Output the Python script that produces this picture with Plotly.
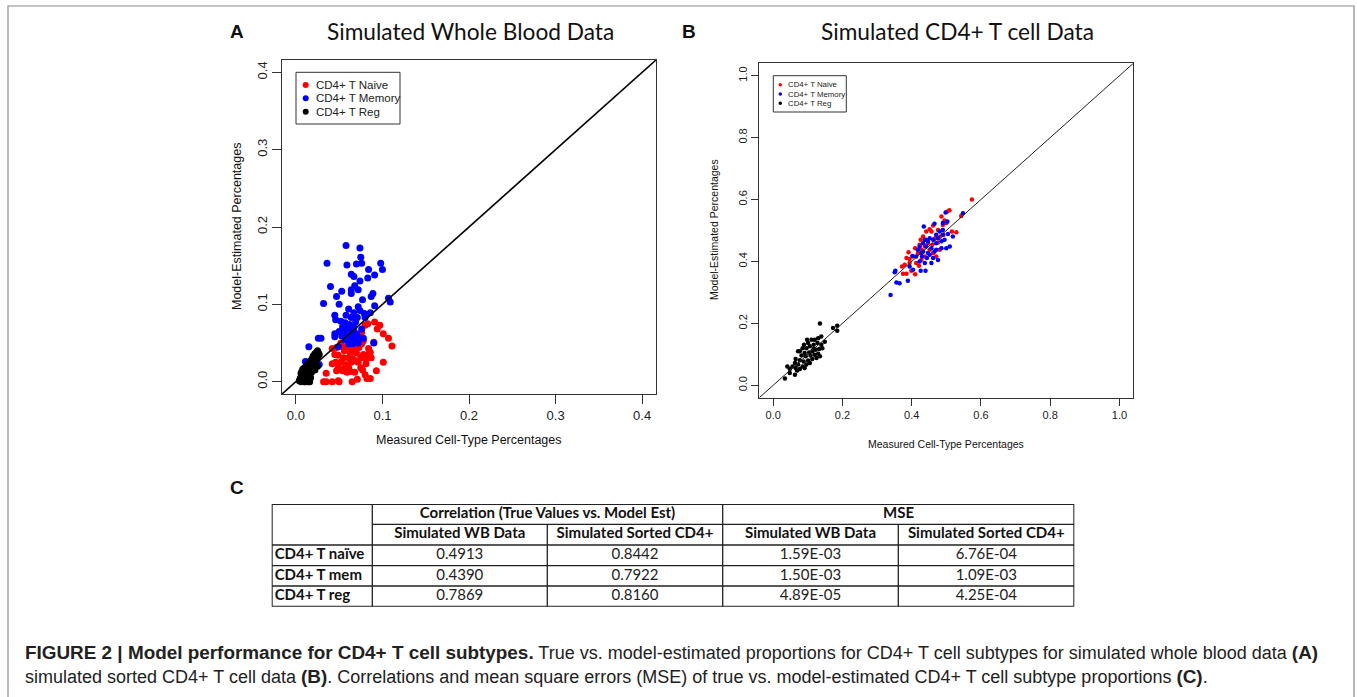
import plotly.graph_objects as go

W, H = 1357, 697

# ---------------- Panel A data (Simulated Whole Blood) ----------------
a_naive_x = [0.091, 0.097, 0.083, 0.094, 0.080, 0.101, 0.107, 0.111, 0.076, 0.073, 0.068, 0.090,
             0.078, 0.063, 0.047, 0.042, 0.053, 0.060, 0.066, 0.073, 0.084, 0.086, 0.056, 0.063,
             0.070, 0.078, 0.083, 0.049, 0.055, 0.061, 0.066, 0.075, 0.081, 0.087, 0.042, 0.046,
             0.052, 0.058, 0.064, 0.072, 0.081, 0.101, 0.049, 0.056, 0.061, 0.075, 0.047, 0.054,
             0.063, 0.077, 0.093, 0.035, 0.059, 0.080, 0.068, 0.032, 0.035, 0.042, 0.049, 0.050,
             0.065, 0.071, 0.082, 0.086, 0.015, 0.010, 0.045, 0.052, 0.076, 0.069]
a_naive_y = [0.077, 0.073, 0.075, 0.068, 0.073, 0.062, 0.056, 0.046, 0.064, 0.060, 0.063, 0.051,
             0.053, 0.055, 0.044, 0.043, 0.046, 0.045, 0.043, 0.044, 0.043, 0.038, 0.040, 0.037,
             0.037, 0.035, 0.035, 0.034, 0.031, 0.031, 0.029, 0.031, 0.029, 0.031, 0.023, 0.025,
             0.025, 0.022, 0.025, 0.025, 0.023, 0.025, 0.018, 0.017, 0.018, 0.018, 0.014, 0.014,
             0.013, 0.015, 0.014, 0.011, 0.012, 0.009, 0.012, 0.000, 0.000, 0.000, 0.001, 0.000,
             0.000, 0.003, 0.004, 0.004, 0.000, 0.000, 0.035, 0.050, 0.049, 0.027]

a_mem_x = [0.058, 0.074, 0.075, 0.036, 0.059, 0.070, 0.076, 0.098, 0.100, 0.084, 0.064, 0.067,
           0.083, 0.091, 0.074, 0.040, 0.068, 0.053, 0.064, 0.072, 0.064, 0.089, 0.087, 0.047,
           0.077, 0.050, 0.032, 0.107, 0.109, 0.091, 0.061, 0.072, 0.067, 0.074, 0.079, 0.086,
           0.045, 0.058, 0.064, 0.071, 0.080, 0.046, 0.052, 0.057, 0.062, 0.069, 0.054, 0.060,
           0.067, 0.076, 0.050, 0.056, 0.064, 0.045, 0.070, 0.045, 0.053, 0.060, 0.066, 0.073,
           0.078, 0.057, 0.063, 0.070, 0.029, 0.026, 0.061, 0.066, 0.072, 0.090, 0.049, 0.015,
           0.027, 0.011]
a_mem_y = [0.176, 0.173, 0.161, 0.153, 0.151, 0.152, 0.153, 0.153, 0.145, 0.145, 0.139, 0.136,
           0.134, 0.138, 0.130, 0.123, 0.124, 0.117, 0.119, 0.119, 0.114, 0.114, 0.110, 0.110,
           0.106, 0.100, 0.101, 0.108, 0.103, 0.098, 0.094, 0.097, 0.089, 0.092, 0.088, 0.089,
           0.086, 0.086, 0.083, 0.083, 0.083, 0.080, 0.078, 0.076, 0.074, 0.077, 0.071, 0.069,
           0.070, 0.068, 0.065, 0.064, 0.063, 0.062, 0.062, 0.058, 0.059, 0.058, 0.057, 0.057,
           0.056, 0.054, 0.051, 0.053, 0.056, 0.056, 0.049, 0.049, 0.050, 0.050, 0.045, 0.045,
           0.022, 0.026]

a_reg_x = [0.025, 0.024, 0.026, 0.022, 0.027, 0.023, 0.020, 0.025, 0.021, 0.019, 0.023, 0.018,
           0.020, 0.016, 0.022, 0.017, 0.019, 0.014, 0.021, 0.015, 0.018, 0.012, 0.016, 0.020,
           0.013, 0.010, 0.015, 0.017, 0.008, 0.011, 0.014, 0.019, 0.009, 0.012, 0.016, 0.007,
           0.010, 0.013, 0.018, 0.006, 0.009, 0.012, 0.015, 0.008, 0.011, 0.014, 0.006, 0.010,
           0.013, 0.017, 0.005, 0.008, 0.011, 0.015, 0.004, 0.007, 0.010, 0.013, 0.016, 0.006,
           0.025, 0.022]
a_reg_y = [0.040, 0.038, 0.037, 0.036, 0.035, 0.034, 0.033, 0.032, 0.031, 0.030, 0.029, 0.028,
           0.027, 0.026, 0.026, 0.025, 0.024, 0.023, 0.023, 0.022, 0.021, 0.020, 0.020, 0.019,
           0.019, 0.018, 0.018, 0.017, 0.016, 0.016, 0.016, 0.016, 0.015, 0.014, 0.014, 0.013,
           0.013, 0.012, 0.012, 0.011, 0.010, 0.010, 0.010, 0.008, 0.008, 0.007, 0.006, 0.006,
           0.005, 0.005, 0.004, 0.003, 0.003, 0.003, 0.001, 0.001, 0.000, 0.000, 0.000, 0.000,
           0.020, 0.015]

# ---------------- Panel B data (Simulated CD4+ T cell) ----------------
b_naive_x = [0.574, 0.543, 0.509, 0.503, 0.486, 0.495, 0.490, 0.516, 0.529, 0.462, 0.452, 0.457,
             0.471, 0.433, 0.442, 0.426, 0.410, 0.391, 0.394, 0.380, 0.372, 0.375, 0.385, 0.399,
             0.410, 0.413, 0.421, 0.404, 0.418, 0.428, 0.438, 0.447, 0.460, 0.476, 0.483, 0.492,
             0.471, 0.462, 0.452, 0.438, 0.428, 0.476, 0.500, 0.442, 0.394, 0.385, 0.423, 0.466,
             0.481]
b_naive_y = [0.600, 0.547, 0.565, 0.561, 0.545, 0.532, 0.518, 0.497, 0.494, 0.516, 0.504, 0.497,
             0.481, 0.481, 0.470, 0.470, 0.443, 0.430, 0.408, 0.389, 0.384, 0.360, 0.360, 0.370,
             0.359, 0.395, 0.386, 0.416, 0.427, 0.438, 0.448, 0.459, 0.454, 0.461, 0.481, 0.486,
             0.416, 0.427, 0.438, 0.416, 0.405, 0.502, 0.524, 0.497, 0.395, 0.411, 0.454, 0.473,
             0.438]

b_mem_x = [0.548, 0.498, 0.503, 0.490, 0.466, 0.435, 0.510, 0.500, 0.486, 0.505, 0.490, 0.476,
           0.462, 0.447, 0.433, 0.423, 0.442, 0.457, 0.471, 0.433, 0.447, 0.462, 0.476, 0.457,
           0.438, 0.423, 0.413, 0.402, 0.394, 0.404, 0.426, 0.440, 0.389, 0.365, 0.356, 0.351,
           0.353, 0.339, 0.490, 0.481, 0.471, 0.452, 0.438, 0.428, 0.418, 0.466, 0.486, 0.495,
           0.444, 0.430, 0.452, 0.471, 0.519]
b_mem_y = [0.556, 0.558, 0.529, 0.524, 0.522, 0.513, 0.448, 0.443, 0.443, 0.489, 0.486, 0.475,
           0.470, 0.465, 0.459, 0.448, 0.448, 0.443, 0.438, 0.432, 0.427, 0.411, 0.405, 0.395,
           0.395, 0.400, 0.416, 0.418, 0.384, 0.373, 0.370, 0.370, 0.338, 0.330, 0.332, 0.365,
           0.370, 0.292, 0.502, 0.497, 0.486, 0.475, 0.470, 0.427, 0.438, 0.432, 0.465, 0.470,
           0.411, 0.416, 0.422, 0.459, 0.481]

b_reg_x = [0.135, 0.173, 0.185, 0.185, 0.149, 0.139, 0.130, 0.120, 0.111, 0.101, 0.089, 0.096,
           0.106, 0.117, 0.128, 0.139, 0.142, 0.133, 0.123, 0.113, 0.104, 0.091, 0.077, 0.072,
           0.082, 0.094, 0.108, 0.120, 0.130, 0.135, 0.125, 0.113, 0.101, 0.088, 0.077, 0.065,
           0.063, 0.072, 0.085, 0.096, 0.106, 0.056, 0.048, 0.065, 0.077, 0.041, 0.048, 0.063,
           0.034, 0.069, 0.091, 0.117, 0.098, 0.085]
b_reg_y = [0.200, 0.185, 0.192, 0.176, 0.141, 0.158, 0.152, 0.147, 0.147, 0.137, 0.131, 0.120,
           0.126, 0.131, 0.137, 0.131, 0.120, 0.117, 0.115, 0.110, 0.106, 0.104, 0.110, 0.110,
           0.096, 0.094, 0.096, 0.099, 0.102, 0.094, 0.088, 0.085, 0.080, 0.077, 0.081, 0.085,
           0.072, 0.067, 0.061, 0.067, 0.072, 0.061, 0.053, 0.056, 0.053, 0.061, 0.040, 0.034,
           0.022, 0.048, 0.056, 0.117, 0.147, 0.120]

series_names = ["CD4+ T Naive", "CD4+ T Memory", "CD4+ T Reg"]
series_colors = ["#ff0000", "#0000ff", "#000000"]

a_ticks = [0.0, 0.1, 0.2, 0.3, 0.4]
b_ticks = [0.0, 0.2, 0.4, 0.6, 0.8, 1.0]

# ---------------- Table C data ----------------
row_labels = ["CD4+ T naïve", "CD4+ T mem", "CD4+ T reg"]
group_headers = ["Correlation (True Values vs. Model Est)", "MSE"]
sub_headers = ["Simulated WB Data", "Simulated Sorted CD4+", "Simulated WB Data", "Simulated Sorted CD4+"]
corr_wb = [0.4913, 0.4390, 0.7869]
corr_sorted = [0.8442, 0.7922, 0.8160]
mse_wb = [1.59e-03, 1.50e-03, 4.89e-05]
mse_sorted = [6.76e-04, 1.09e-03, 4.25e-04]

title_a = "Simulated Whole Blood Data"
title_b = "Simulated CD4+ T cell Data"
x_label = "Measured Cell-Type Percentages"
y_label = "Model-Estimated Percentages"

BOLD = "<span style='font-family:Liberation Sans, Arial;font-size:18.9px'><b>{}</b></span>"
caption_1 = (BOLD.format("FIGURE 2 | Model performance for CD4+ T cell subtypes.") +
             " True vs. model-estimated proportions for CD4+ T cell subtypes for simulated whole blood data " +
             BOLD.format("(A)"))
caption_2 = ("simulated sorted CD4+ T cell data " + BOLD.format("(B)") +
             ". Correlations and mean square errors (MSE) of true vs. model-estimated CD4+ T cell subtype proportions " +
             BOLD.format("(C)") + ".")

# ---------------- helpers ----------------
def px(xp):
    return xp / W

def py(yp):
    return 1 - yp / H

R_FONT = "Liberation Sans, Arial, sans-serif"
C_FONT = "Lato, Open Sans, sans-serif"

fig = go.Figure()

a_sets = [(a_naive_x, a_naive_y), (a_mem_x, a_mem_y), (a_reg_x, a_reg_y)]
b_sets = [(b_naive_x, b_naive_y), (b_mem_x, b_mem_y), (b_reg_x, b_reg_y)]

for (xs, ys), name, col in zip(a_sets, series_names, series_colors):
    fig.add_trace(go.Scatter(x=xs, y=ys, mode="markers", name=name, showlegend=False,
                             marker=dict(color=col, size=7, line=dict(width=0)),
                             xaxis="x", yaxis="y"))
for (xs, ys), name, col in zip(b_sets, series_names, series_colors):
    fig.add_trace(go.Scatter(x=xs, y=ys, mode="markers", name=name, showlegend=False,
                             marker=dict(color=col, size=4.5, line=dict(width=0)),
                             xaxis="x2", yaxis="y2"))

def r_range(lo, hi):
    d = (hi - lo) * 0.04
    return [lo - d, hi + d]

a_rng = r_range(a_ticks[0], a_ticks[-1])
b_rng = r_range(b_ticks[0], b_ticks[-1])

shapes = []
# outer frame
shapes.append(dict(type="rect", xref="paper", yref="paper", x0=px(8), x1=px(1354), y0=py(702), y1=py(6),
                   line=dict(color="#8a8a8a", width=1.2), layer="below"))
# identity lines (abline(0,1)) spanning the full plot region
shapes.append(dict(type="line", xref="x", yref="y", x0=a_rng[0], y0=a_rng[0], x1=a_rng[1], y1=a_rng[1],
                   line=dict(color="black", width=1.6)))
shapes.append(dict(type="line", xref="x2", yref="y2", x0=b_rng[0], y0=b_rng[0], x1=b_rng[1], y1=b_rng[1],
                   line=dict(color="#222", width=1)))

def r_axis(domain, rng, ticks, fsize, ticklen, anchor, angle=0):
    return dict(domain=domain, range=rng, tickvals=ticks, ticktext=[f"{t:.1f}" for t in ticks],
                showgrid=False, zeroline=False, showline=True, mirror=True, anchor=anchor,
                linecolor="#333", linewidth=1.3, ticks="outside", ticklen=ticklen,
                tickcolor="#333", tickwidth=1, tickangle=angle,
                tickfont=dict(family=R_FONT, size=fsize, color="#222"), fixedrange=True)

# table geometry
col_w = [100.6, 175.0, 175.4, 175.6, 176.0]
row_h = [20.3, 20.7, 20.7, 20.3, 20.7]
tab_left, tab_top = 271.7, 504.0
tab_w, tab_h = sum(col_w), sum(row_h)
col_edges = [0.0]
for w in col_w:
    col_edges.append(col_edges[-1] + w)
row_edges = [0.0]
for h in row_h:
    row_edges.append(row_edges[-1] + h)

fig.update_layout(
    width=W, height=H, margin=dict(l=0, r=0, t=0, b=0),
    paper_bgcolor="white", plot_bgcolor="white", showlegend=False,
    xaxis=r_axis([px(282), px(656)], a_rng, a_ticks, 13, 9, "y"),
    yaxis=r_axis([py(394), py(60)], a_rng, a_ticks, 13, 9, "x", angle=-90),
    xaxis2=r_axis([px(759.3), px(1133.3)], b_rng, b_ticks, 11, 7, "y2"),
    yaxis2=r_axis([py(397.7), py(63.3)], b_rng, b_ticks, 11, 7, "x2", angle=-90),
    xaxis3=dict(domain=[px(tab_left), px(tab_left + tab_w)], range=[0, tab_w], visible=False,
                fixedrange=True, anchor="y3"),
    yaxis3=dict(domain=[py(tab_top + tab_h), py(tab_top)], range=[tab_h, 0], visible=False,
                fixedrange=True, anchor="x3"),
)

ann = []
def note(x, y, text, size, family=R_FONT, color="#111", xa="center", ya="middle", angle=0):
    ann.append(dict(x=px(x), y=py(y), xref="paper", yref="paper", text=text, showarrow=False,
                    font=dict(family=family, size=size, color=color), xanchor=xa, yanchor=ya,
                    textangle=angle))

# panel letters and titles
note(237, 32, "<b>A</b>", 19, family="Liberation Sans, Arial")
note(689, 32, "<b>B</b>", 19, family="Liberation Sans, Arial")
note(237, 487, "<b>C</b>", 19, family="Liberation Sans, Arial")
note(470, 32, title_a, 22.7, family=C_FONT, color="#111")
note(957, 32, title_b, 22.7, family=C_FONT, color="#111")

# axis titles
note(469, 440, x_label, 12.5)
note(237, 227, y_label, 12.5, angle=-90)
note(946, 444, x_label, 10.5)
note(714, 230, y_label, 10.5, angle=-90)

# caption
CAP_FONT = "Liberation Sans Narrow, Liberation Sans, Arial"
note(22.5, 652, caption_1, 18, family=CAP_FONT, color="#222", xa="left")
note(22.5, 676, caption_2, 18, family=CAP_FONT, color="#222", xa="left")

# manual legends (R style)
def r_legend(x0, y0, x1, y1, ys, mx, tx, dot, fsize):
    shapes.append(dict(type="rect", xref="paper", yref="paper", x0=px(x0), x1=px(x1), y0=py(y1), y1=py(y0),
                       line=dict(color="#333", width=1)))
    for yy, name, col in zip(ys, series_names, series_colors):
        shapes.append(dict(type="circle", xref="paper", yref="paper", xsizemode="pixel", ysizemode="pixel",
                           xanchor=px(mx), yanchor=py(yy), x0=-dot / 2, x1=dot / 2, y0=-dot / 2, y1=dot / 2,
                           fillcolor=col, line=dict(width=0)))
        note(tx, yy, name, fsize, color="#222", xa="left")

r_legend(296, 72.3, 400, 124, [85, 98.3, 111.7], 305.7, 314, 6, 11.5)
r_legend(773.3, 75.7, 846.3, 112, [84.7, 94, 103.3], 780.3, 785.5, 3.5, 7.8)

# table grid
def tline(xa, ya, xb, yb, w=1.3):
    shapes.append(dict(type="line", xref="x3", yref="y3", x0=xa, y0=ya, x1=xb, y1=yb,
                       line=dict(color="#222", width=w)))

tline(col_edges[1], row_edges[1], col_edges[5], row_edges[1])
for r in (2, 3, 4):
    tline(col_edges[0], row_edges[r], col_edges[5], row_edges[r])
tline(col_edges[1], row_edges[0], col_edges[1], row_edges[5])
tline(col_edges[3], row_edges[0], col_edges[3], row_edges[5])
tline(col_edges[2], row_edges[1], col_edges[2], row_edges[5])
tline(col_edges[4], row_edges[1], col_edges[4], row_edges[5])
shapes.append(dict(type="rect", xref="x3", yref="y3", x0=0, x1=tab_w, y0=0, y1=tab_h,
                   line=dict(color="#222", width=2)))

def mid(edges, i, j=None):
    j = i + 1 if j is None else j
    return (edges[i] + edges[j]) / 2

TFS = 15
hx = [mid(col_edges, 1, 3), mid(col_edges, 3, 5)] + [mid(col_edges, c) for c in range(1, 5)]
hy = [mid(row_edges, 0)] * 2 + [mid(row_edges, 1)] * 4
fig.add_trace(go.Scatter(x=hx, y=hy, text=[f"<b>{t}</b>" for t in group_headers + sub_headers],
                         mode="text", textposition="middle center", hoverinfo="skip",
                         textfont=dict(family=C_FONT, size=TFS, color="#111"),
                         xaxis="x3", yaxis="y3"))
fig.add_trace(go.Scatter(x=[3] * 3, y=[mid(row_edges, r) for r in (2, 3, 4)],
                         text=[f"<b>{t}</b>" for t in row_labels],
                         mode="text", textposition="middle right", hoverinfo="skip",
                         textfont=dict(family=C_FONT, size=TFS, color="#111"),
                         xaxis="x3", yaxis="y3"))
vals_x, vals_y, vals_t = [], [], []
for c, (vals, fmt) in enumerate([(corr_wb, "{:.4f}"), (corr_sorted, "{:.4f}"),
                                  (mse_wb, "{:.2E}"), (mse_sorted, "{:.2E}")], start=1):
    for r, v in enumerate(vals, start=2):
        vals_x.append(mid(col_edges, c))
        vals_y.append(mid(row_edges, r))
        vals_t.append(fmt.format(v))
fig.add_trace(go.Scatter(x=vals_x, y=vals_y, text=vals_t, mode="text", textposition="middle center",
                         hoverinfo="skip", textfont=dict(family=C_FONT, size=TFS, color="#222"),
                         xaxis="x3", yaxis="y3"))

fig.update_layout(annotations=ann, shapes=shapes)
fig.write_html("out.html", config={"displayModeBar": False},
               post_script="document.body.style.margin='0';")
